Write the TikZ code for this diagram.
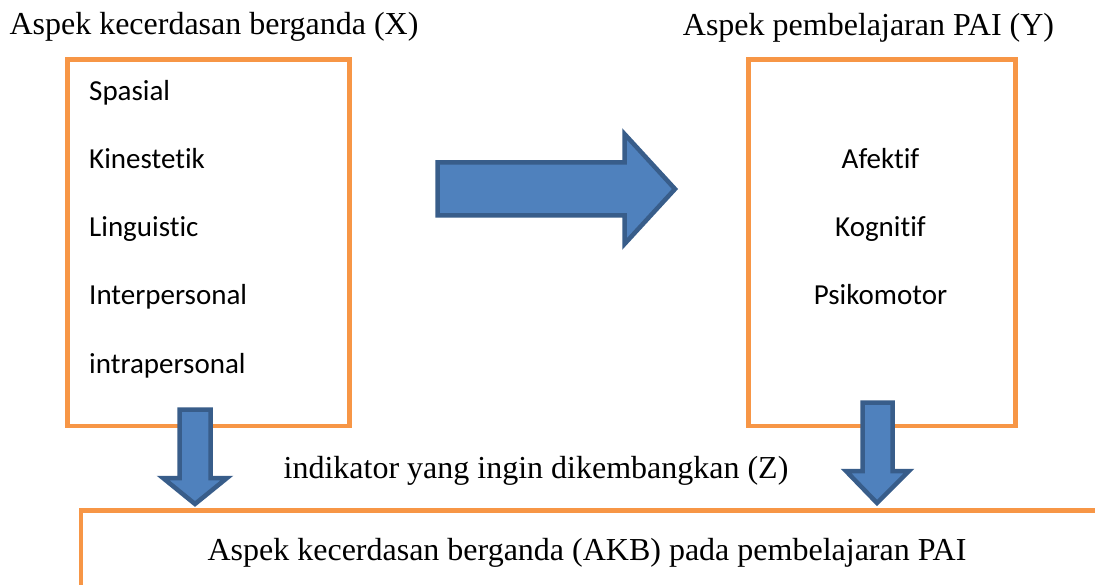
\documentclass[tikz,border=0pt]{standalone}
\usepackage{fontspec}
\setmainfont{Liberation Serif}
\newfontfamily\boxfont[Ligatures=NoCommon]{Carlito}
\usepackage{tikz}
\usetikzlibrary{positioning,calc}

\definecolor{boxorange}{HTML}{F79646}
\definecolor{arrowblue}{HTML}{4F81BD}
\definecolor{arrowedge}{HTML}{385D8A}

\tikzset{
    box/.style={draw=boxorange, line width=4.5pt},
    blockarrow/.style={fill=arrowblue, draw=arrowedge, line width=4.5pt, line join=miter},
    title/.style={font=\fontsize{32}{35}\selectfont, anchor=base, inner sep=0pt},
    item/.style={font=\boxfont\fontsize{29}{32}\selectfont, anchor=base, inner sep=0pt}
}

\begin{document}
\begin{tikzpicture}[x=1pt, y=-1pt]
    \clip (0,0) rectangle (1095,585);
    \fill[white] (0,0) rectangle (1095,585);

    % boxes
    \draw[box] (67.5,59.5) rectangle (349.5,426);
    \draw[box] (748.5,59.5) rectangle (1015.5,426);
    \draw[box] (81,510.5) rectangle (1120,620);

    % titles
    \node[title] (tx) at (214,35) {Aspek kecerdasan berganda (X)};
    \node[title] (ty) at (868.5,36) {Aspek pembelajaran PAI (Y)};
    \node[title] (tz) at (536,478) {indikator yang ingin dikembangkan (Z)};
    \node[title] (takb) at (587,560) {Aspek kecerdasan berganda (AKB) pada pembelajaran PAI};

    % left list
    \node[item, anchor=base west] (spasial) at (89,101) {Spasial};
    \node[item, anchor=base west] (kines) at (89,169) {Kinestetik};
    \node[item, anchor=base west] (ling) at (89,237) {Linguistic};
    \node[item, anchor=base west] (inter) at (89,305) {Interpersonal};
    \node[item, anchor=base west] (intra) at (89,373) {intrapersonal};

    % right list
    \node[item] (afek) at (880.5,168.5) {Afektif};
    \node[item] (kogn) at (880.5,236.5) {Kognitif};
    \node[item] (psiko) at (880.5,304.5) {Psikomotor};

    % arrows
    \draw[blockarrow] (437.5,162.5) -- (624.5,162.5) -- (624.5,134) -- (675,189)
        -- (624.5,244) -- (624.5,215.5) -- (437.5,215.5) -- cycle;
    \draw[blockarrow] (179.5,409.5) -- (210.5,409.5) -- (210.5,478) -- (227,478)
        -- (195,504) -- (163,478) -- (179.5,478) -- cycle;
    \draw[blockarrow] (862.5,402.5) -- (892.5,402.5) -- (892.5,471) -- (909,471)
        -- (877,503) -- (846,471) -- (862.5,471) -- cycle;
\end{tikzpicture}
\end{document}
